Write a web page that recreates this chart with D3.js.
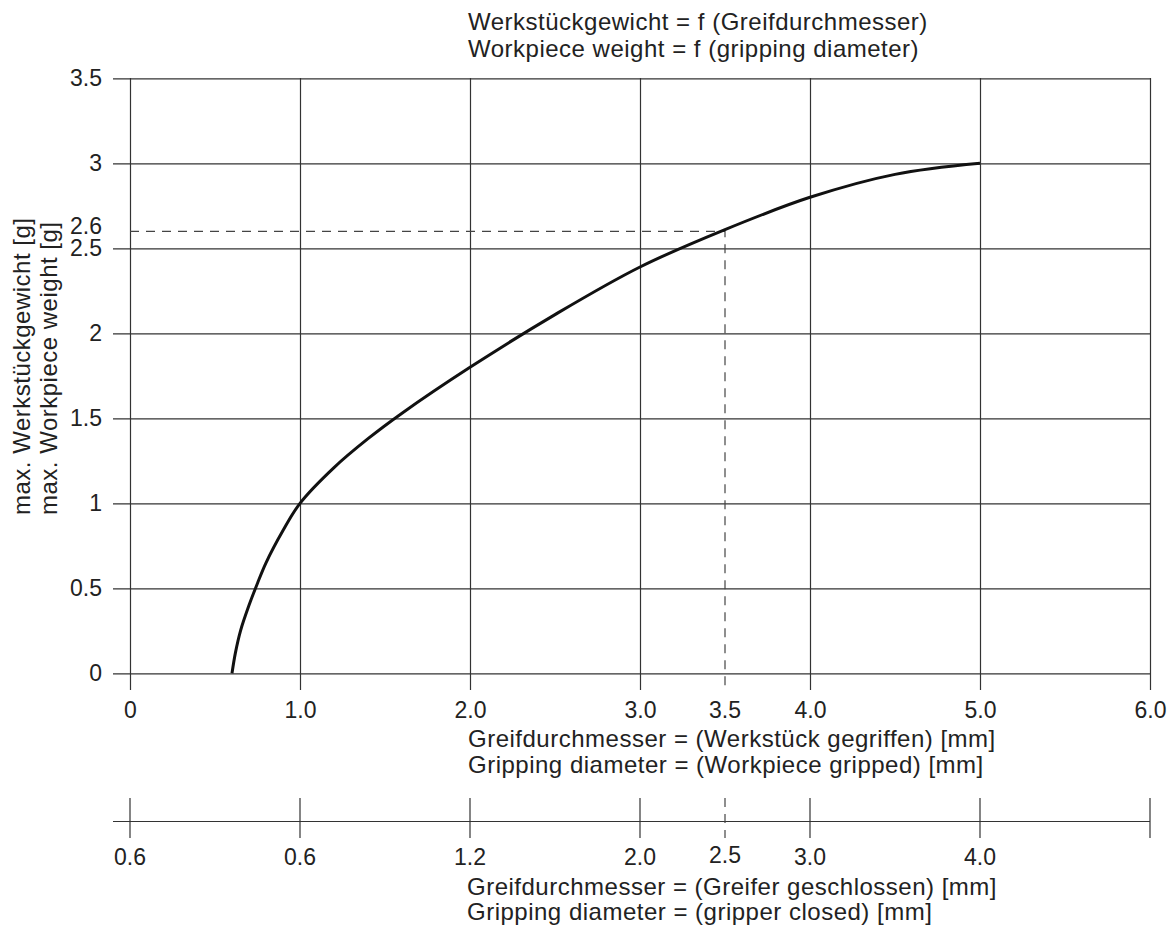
<!DOCTYPE html>
<html>
<head>
<meta charset="utf-8">
<script src="https://cdn.jsdelivr.net/npm/d3@7"></script>
<style>
  html, body { margin: 0; padding: 0; background: #fff; }
  text { font-family: "Liberation Sans", Arial, Helvetica, sans-serif; fill: #222; }
</style>
</head>
<body>
<script>
// 数据：夹持直径 (mm) -> 最大工件重量 (g)
const diameter = [0.6, 0.62, 0.65, 0.7, 0.75, 0.8, 0.9, 1.0, 1.2, 1.4, 1.6, 2.0, 2.5, 3.0, 3.5, 4.0, 4.5, 5.0];
const weight   = [0, 0.12, 0.25, 0.4, 0.53, 0.65, 0.84, 1.0, 1.21, 1.38, 1.53, 1.8, 2.11, 2.39, 2.61, 2.8, 2.935, 3.0];

// 刻度
const xTicks = [0, 1, 2, 3, 3.5, 4, 5, 6];
const xTickLabels = ["0", "1.0", "2.0", "3.0", "3.5", "4.0", "5.0", "6.0"];
const yTicks = [0, 0.5, 1, 1.5, 2, 2.5, 3, 3.5];
const yTickLabels = ["0", "0.5", "1", "1.5", "2", "2.5", "3", "3.5"];
// 第二个坐标轴（夹爪闭合），位置对应上面的夹持直径
const closedAt = [0, 1, 2, 3, 3.5, 4, 5, 6];
const closedLabels = ["0.6", "0.6", "1.2", "2.0", "2.5", "3.0", "4.0", ""];

// 标记点
const markX = 3.5;
const markY = 2.6;

const width = 1172, height = 934;
const svg = d3.select('body').append('svg')
    .attr('width', width)
    .attr('height', height);

const x = d3.scaleLinear().domain([0, 6]).range([130, 1150]);
const y = d3.scaleLinear().domain([0, 3.5]).range([673.3, 78.3]);

const gridColor = '#333';
const tickFont = 23;
const titleFont = 24;
const spacing = '0.5px';

// 纵向网格线 + 横轴标签
const xAxis = d3.axisBottom(x)
    .tickValues(xTicks.filter(d => d !== markX))
    .tickSize(-(690 - 78))
    .tickPadding(12)
    .tickFormat(d => xTickLabels[xTicks.indexOf(d)]);

const gx = svg.append('g')
    .attr('transform', 'translate(0,690)')
    .call(xAxis);
gx.select('.domain').remove();
gx.selectAll('line').attr('stroke', gridColor).attr('stroke-width', 1.2);
gx.selectAll('text').style('font-size', tickFont + 'px').attr('fill', '#222');

// 3.5 的标签单独画（虚线）
svg.append('text')
    .attr('x', x(markX))
    .attr('y', 718)
    .attr('text-anchor', 'middle')
    .style('font-size', tickFont + 'px')
    .text(xTickLabels[xTicks.indexOf(markX)]);

// 横向网格线 + 纵轴标签
const yAxis = d3.axisLeft(y)
    .tickValues(yTicks)
    .tickSize(-(1150 - 113))
    .tickPadding(11)
    .tickFormat((d, i) => yTickLabels[i]);

const gy = svg.append('g')
    .attr('transform', 'translate(113,0)')
    .call(yAxis);
gy.select('.domain').remove();
gy.selectAll('line').attr('stroke', gridColor).attr('stroke-width', 1.2);
gy.selectAll('text').style('font-size', tickFont + 'px').attr('fill', '#222');

// 2.6 标签（稍微上移，避免和 2.5 重叠）
svg.append('text')
    .attr('x', 102)
    .attr('y', y(markY) - 5)
    .attr('dy', '0.35em')
    .attr('text-anchor', 'end')
    .style('font-size', tickFont + 'px')
    .text(markY.toFixed(1));

// 虚线
svg.append('path')
    .attr('d', `M${x(0)},${y(markY)}H${x(markX)}V690`)
    .attr('fill', 'none')
    .attr('stroke', '#444')
    .attr('stroke-width', 1.2)
    .attr('stroke-dasharray', '9,7');

// 曲线
const line = d3.line()
    .x((d, i) => x(diameter[i]))
    .y(d => y(d))
    .curve(d3.curveCatmullRom.alpha(0.5));

svg.append('path')
    .datum(weight)
    .attr('d', line)
    .attr('fill', 'none')
    .attr('stroke', '#111')
    .attr('stroke-width', 3);

// 第二坐标轴
const axis2Y = 821.5;
svg.append('line')
    .attr('x1', 113).attr('x2', 1150)
    .attr('y1', axis2Y).attr('y2', axis2Y)
    .attr('stroke', gridColor)
    .attr('stroke-width', 1.2);

svg.selectAll('.tick2')
    .data(closedAt)
    .enter().append('line')
    .attr('class', 'tick2')
    .attr('x1', d => x(d)).attr('x2', d => x(d))
    .attr('y1', 798).attr('y2', 838)
    .attr('stroke', d => d === markX ? '#444' : gridColor)
    .attr('stroke-width', 1.2)
    .attr('stroke-dasharray', d => d === markX ? '9,7' : null);

svg.selectAll('.label2')
    .data(closedAt)
    .enter().append('text')
    .attr('class', 'label2')
    .attr('x', d => x(d))
    .attr('y', d => d === markX ? 863 : 865)
    .attr('text-anchor', 'middle')
    .style('font-size', tickFont + 'px')
    .text((d, i) => closedLabels[i]);

// 标题文字
const titles = [
    { t: 'Werkstückgewicht = f (Greifdurchmesser)', x: 468, y: 30 },
    { t: 'Workpiece weight = f (gripping diameter)', x: 468, y: 57 },
    { t: 'Greifdurchmesser = (Werkstück gegriffen) [mm]', x: 468, y: 747 },
    { t: 'Gripping diameter = (Workpiece gripped) [mm]', x: 468, y: 773 },
    { t: 'Greifdurchmesser = (Greifer geschlossen) [mm]', x: 467, y: 895 },
    { t: 'Gripping diameter = (gripper closed) [mm]', x: 467, y: 920 }
];
svg.selectAll('.title')
    .data(titles)
    .enter().append('text')
    .attr('class', 'title')
    .attr('x', d => d.x)
    .attr('y', d => d.y)
    .style('font-size', titleFont + 'px')
    .style('letter-spacing', spacing)
    .text(d => d.t);

// 纵轴标题
['max. Werkstückgewicht [g]', 'max. Workpiece weight [g]'].forEach((t, i) => {
    svg.append('text')
        .attr('transform', `translate(${30 + i * 27},515) rotate(-90)`)
        .style('font-size', titleFont + 'px')
        .style('letter-spacing', spacing)
        .text(t);
});
</script>
</body>
</html>
